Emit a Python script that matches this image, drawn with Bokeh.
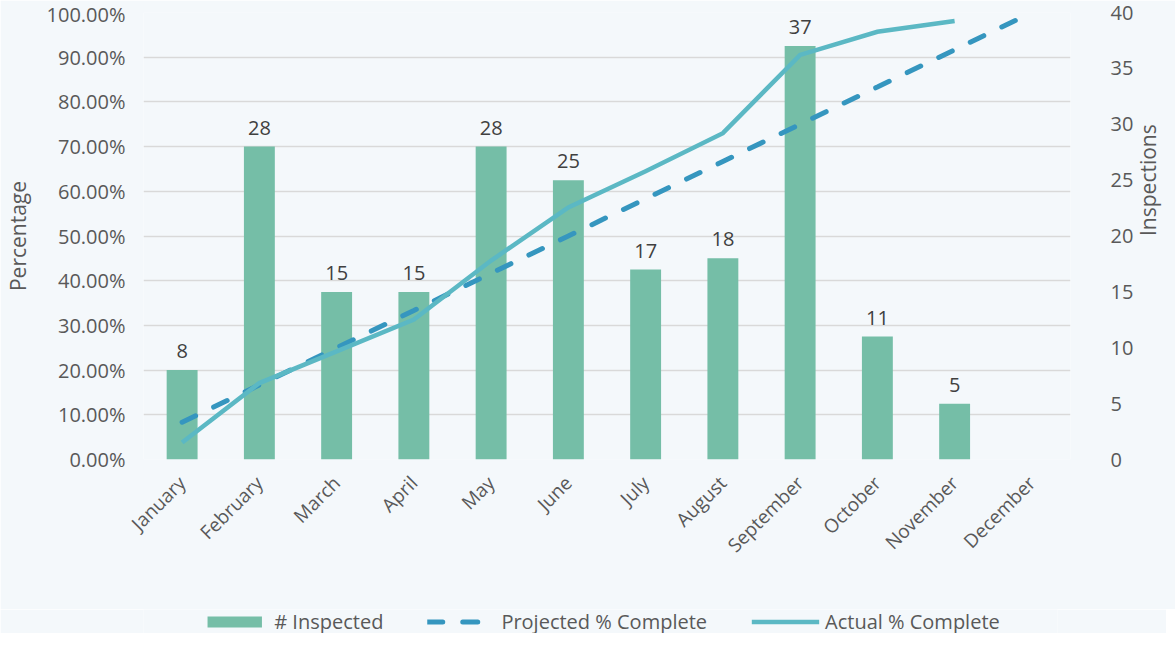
from bokeh.plotting import figure
from bokeh.models import (FactorRange, Range1d, LinearAxis, NumeralTickFormatter,
                          FixedTicker, ColumnDataSource, Legend, LegendItem)
from bokeh.layouts import column
from bokeh.core.properties import value
from bokeh.embed import file_html
from bokeh.resources import INLINE
import math

months = ["January", "February", "March", "April", "May", "June", "July",
          "August", "September", "October", "November", "December"]
inspected = [8, 28, 15, 15, 28, 25, 17, 18, 37, 11, 5, 0]
inspected_labels = ["8", "28", "15", "15", "28", "25", "17", "18", "37", "11", "5", ""]
projected = [0.0833, 0.1667, 0.25, 0.3333, 0.4167, 0.50, 0.5833, 0.6667,
             0.75, 0.8333, 0.9167, 1.00]
actual_months = months[:11]
actual = [0.038, 0.171, 0.242, 0.313, 0.445, 0.564, 0.645, 0.730,
          0.905, 0.957, 0.981]
pct_ticks = [0, 0.1, 0.2, 0.3, 0.4, 0.5, 0.6, 0.7, 0.8, 0.9, 1.0]
insp_ticks = [0, 5, 10, 15, 20, 25, 30, 35, 40]
series_names = ["# Inspected", "Projected % Complete", "Actual % Complete"]

BG = "#F4F8FB"
BAR = "#75BEA7"
PROJ = "#3596BF"
ACT = "#5BB8C4"
TXT = "#595959"
FONT = "Open Sans"

p = figure(x_range=FactorRange(*months), y_range=Range1d(0, 1),
           frame_width=927, frame_height=447,
           output_backend="svg", toolbar_location=None,
           min_border_left=138, min_border_right=0, min_border_top=12,
           min_border_bottom=150,
           background_fill_color=BG, border_fill_color=BG, outline_line_color=None)

p.extra_y_ranges = {"insp": Range1d(0, 40)}

src = ColumnDataSource(dict(m=months, v=inspected, lab=inspected_labels))
p.vbar(x="m", top="v", width=0.4, source=src, y_range_name="insp",
       fill_color=BAR, line_color=None)
p.text(x="m", y="v", text="lab", source=src, y_range_name="insp",
       text_align="center", text_baseline="bottom", y_offset=-12,
       text_font=value(FONT), text_font_size="20px", text_color="#404040")

p.line(months, projected, line_color=PROJ, line_width=5,
       line_dash="15 20", line_cap="round")
p.line(actual_months, actual, line_color=ACT, line_width=4.5, line_join="miter")

# left axis
ya = p.yaxis[0]
ya.ticker = FixedTicker(ticks=pct_ticks)
ya.formatter = NumeralTickFormatter(format="0.00%")
ya.axis_label = "Percentage"

# right axis
ra = LinearAxis(y_range_name="insp", ticker=FixedTicker(ticks=insp_ticks),
                axis_label="Inspections")
p.add_layout(ra, "right")

for ax in [ya, ra, p.xaxis[0]]:
    ax.axis_line_color = None
    ax.major_tick_line_color = None
    ax.minor_tick_line_color = None
    ax.major_label_text_font = FONT
    ax.major_label_text_color = TXT
    ax.major_label_text_font_size = "20px"
    ax.axis_label_text_font = FONT
    ax.axis_label_text_color = TXT
    ax.axis_label_text_font_size = "21px"
    ax.axis_label_text_font_style = "normal"

ya.major_label_standoff = 12
ra.major_label_standoff = 34
ya.axis_label_standoff = 12
ra.axis_label_standoff = 12
ra.axis_label_orientation = math.pi / 2
p.xaxis[0].major_label_orientation = math.pi / 4
p.xaxis[0].major_label_text_font_size = "19px"
p.xaxis[0].major_label_standoff = 14

p.xgrid.grid_line_color = None
p.ygrid.grid_line_color = "#D9D9D9"
p.ygrid.grid_line_width = 1.3
p.ygrid.ticker = FixedTicker(ticks=pct_ticks)

# legend strip (dummy renderers kept outside the visible range)
lf = figure(x_range=Range1d(0, 1), y_range=Range1d(0, 1),
            width=1166, height=24, output_backend="svg", toolbar_location=None,
            min_border=0, background_fill_color=BG, border_fill_color=BG,
            outline_line_color=None)
lf.axis.visible = False
lf.grid.visible = False
dummy = ColumnDataSource(dict(x=[-5, -4], y=[-5, -5]))
r1 = lf.vbar(x="x", top="y", width=0.4, source=dummy, fill_color=BAR, line_color=None)
r2 = lf.line(x="x", y="y", source=dummy, line_color=PROJ, line_width=5,
             line_dash="15 20", line_cap="round")
r3 = lf.line(x="x", y="y", source=dummy, line_color=ACT, line_width=4.5)
legend = Legend(items=[LegendItem(label=series_names[0], renderers=[r1]),
                       LegendItem(label=series_names[1], renderers=[r2]),
                       LegendItem(label=series_names[2], renderers=[r3])],
                orientation="horizontal", location="center",
                background_fill_alpha=0, border_line_color=None,
                label_text_font=FONT, label_text_font_size="20px",
                label_text_color=TXT, glyph_width=68, glyph_height=14,
                spacing=44, padding=0, margin=0, label_standoff=6)
lf.add_layout(legend, "center")

layout = column(p, lf, spacing=0)
open("out.html", "w").write(file_html(layout, INLINE))
